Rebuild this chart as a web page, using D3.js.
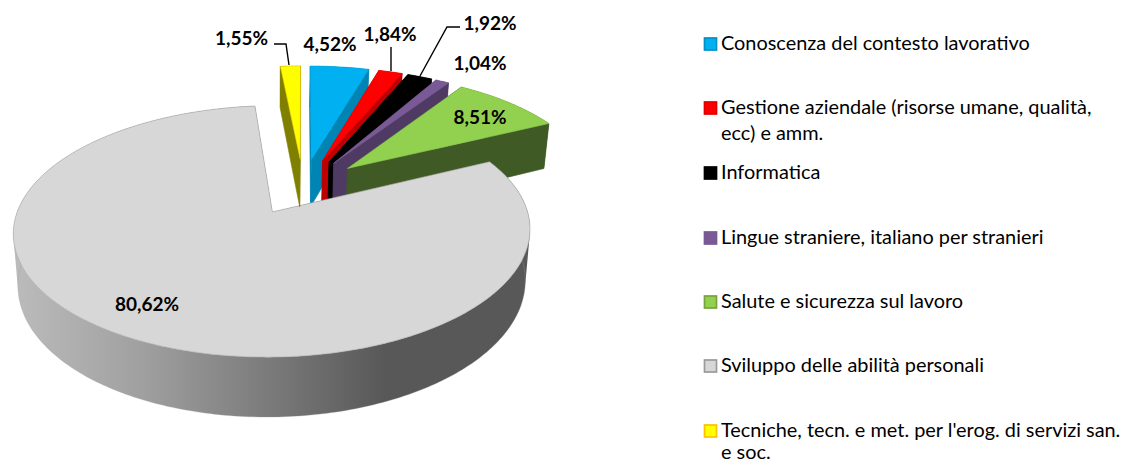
<!DOCTYPE html>
<html><head><meta charset="utf-8">
<script src="https://cdn.jsdelivr.net/npm/d3@7"></script>
<style>html,body{margin:0;padding:0;background:#fff}svg{display:block}text{font-family:Lato,"Open Sans",sans-serif;fill:#000}</style>
</head><body><svg id="c" width="1126" height="463"></svg>
<script>
const categories=["Conoscenza del contesto lavorativo","Gestione aziendale (risorse umane, qualità, ecc) e amm.","Informatica","Lingue straniere, italiano per stranieri","Salute e sicurezza sul lavoro","Sviluppo delle abilità personali","Tecniche, tecn. e met. per l'erog. di servizi san. e soc."];
const values=[4.52,1.84,1.92,1.04,8.51,80.62,1.55];
const valueLabels=["4,52%","1,84%","1,92%","1,04%","8,51%","80,62%","1,55%"];
const topColors=["#00B0F0","#FF0000","#000000","#7A5A96","#92D050","#D7D7D7","#FFFF00"];
const wallColors=["#0084B4","#BF0000","#000000","#4F3A63","#3F5A24","#808080","#7F7F00"];
const edgeColors=["#00A4E0","#F00000","#000000","#7A5A96","#8AC64C","#A8A8A8","#E8C000"];
const legendEdges=["#0090C8","#E00000","#000000","#775A94","#76A33C","#9A9A9A","#FFC000"];
const legendLines=[["Conoscenza del contesto lavorativo"],["Gestione aziendale (risorse umane, qualità,","ecc) e amm."],["Informatica"],["Lingue straniere, italiano per stranieri"],["Salute e sicurezza sul lavoro"],["Sviluppo delle abilità personali"],["Tecniche, tecn. e met. per l'erog. di servizi san.","e soc."]];
const legendY=[44,108,173,238,302,366,431];
const labelPos=[[241.5,38],[330,44],[390,34],[490,23],[480,63],[480,117],[147,304]];
const labelIdx=[6,0,1,2,3,4,5];
const leaders=[null,[[391,47],[391,71]],[[460,27],[447,27],[420,76]],null,null,null,[[274,44],[286,44],[289,65]]];

const svg=d3.select("#c");
const cx=303,cy=186.5,R=247,K=115,p=0.15,explode=0.245,depth=49,vx=271,shrink=0.982;
const defs=svg.append("defs");
const grad=defs.append("linearGradient").attr("id","wall").attr("gradientUnits","userSpaceOnUse").attr("x1",12).attr("x2",530).attr("y1",0).attr("y2",0);
[[0,"#bcbcbc"],[0.25,"#a0a0a0"],[0.5,"#7a7a7a"],[0.72,"#585858"],[1,"#585858"]].forEach(s=>grad.append("stop").attr("offset",s[0]).attr("stop-color",s[1]));

const scaleU=d3.scaleLinear().domain([0,1]).range([0,R]);
const scaleV=d3.scaleLinear().domain([0,1]).range([0,-K]);
const project=(u,v)=>{const s=1/(1+p*v);return [cx+scaleU(u)*s,cy+scaleV(v)*s];};
const lower=(u,v)=>{const s=1/(1+p*v),[x,y]=project(u,v);return [vx+(x-vx)*shrink,y+depth*s];};
const line=d3.line();
const pie=d3.pie().sort(null)(values);
const quadOf=(a,b)=>{
  const q=[project(a[0],a[1]),project(b[0],b[1]),lower(b[0],b[1]),lower(a[0],a[1])];
  return d3.polygonArea(q)<0?q.reverse():q;
};

pie.forEach((d,i)=>{
  const mid=(d.startAngle+d.endAngle)/2;
  const u0=explode*Math.sin(mid),v0=explode*Math.cos(mid);
  const n=Math.max(6,Math.ceil((d.endAngle-d.startAngle)*60));
  const arc=d3.range(n+1).map(k=>{const a=d.startAngle+(d.endAngle-d.startAngle)*k/n;return [u0+Math.sin(a),v0+Math.cos(a)];});
  const g=svg.append("g");
  const wallFill=i===5?"url(#wall)":wallColors[i];
  [arc[0],arc[n]].forEach(e=>{
    g.append("path").attr("d",line(quadOf([u0,v0],e))+"Z").attr("fill",wallFill).attr("stroke",i===5?"none":wallFill).attr("stroke-width",0.6);
  });
  const sideD=arc.slice(1).map((q,k)=>line(quadOf(arc[k],q))+"Z").join("");
  g.append("path").attr("d",sideD).attr("fill",wallFill).attr("fill-rule","nonzero");
  if(i===5){
    g.append("path").attr("d",line(arc.map(q=>lower(q[0],q[1])))).attr("fill","none").attr("stroke","#9a9a9a").attr("stroke-opacity",0.6).attr("stroke-width",0.5);
  }
  const top=[project(u0,v0)].concat(arc.map(q=>project(q[0],q[1])));
  g.append("path").attr("d",line(top)+"Z").attr("fill",topColors[i]).attr("stroke",edgeColors[i]).attr("stroke-width",0.6);
});

leaders.forEach(l=>{if(l)svg.append("path").attr("d",line(l)).attr("fill","none").attr("stroke","#000").attr("stroke-width",1.4);});
labelIdx.forEach((k,i)=>{
  svg.append("text").attr("x",labelPos[i][0]).attr("y",labelPos[i][1]).attr("dy","0.36em").attr("text-anchor","middle").attr("font-size",19).attr("font-weight",700).text(valueLabels[k]);
});
categories.forEach((c,i)=>{
  const y=legendY[i];
  svg.append("rect").attr("x",704.5).attr("y",y-6).attr("width",12).attr("height",12).attr("fill",topColors[i]).attr("stroke",legendEdges[i]).attr("stroke-width",1.7);
  const lines=legendLines[i];
  lines.forEach((s,j)=>{
    svg.append("text").attr("x",721).attr("y",y+6+j*(i===6?21.8:25.5)).attr("font-size",19.9).text(s);
  });
});
</script></body></html>
